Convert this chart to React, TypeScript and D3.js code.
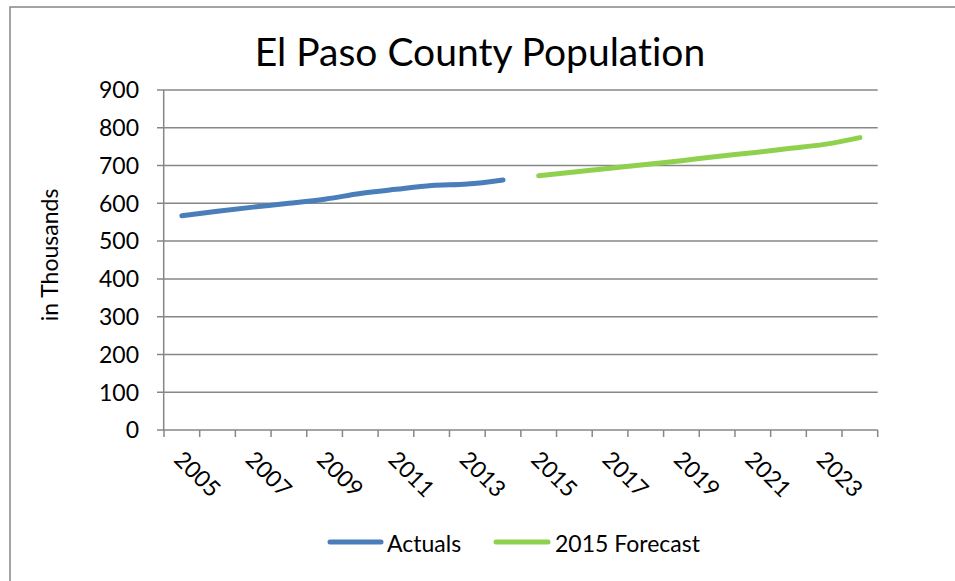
import React from "react";
import * as d3 from "d3";

const years: number[] = d3.range(2005, 2025);
const actualYears: number[] = [2005, 2006, 2007, 2008, 2009, 2010, 2011, 2012, 2013, 2014];
const actualValues: number[] = [567, 579, 590, 600, 611, 626, 637, 647, 651, 662];
const forecastYears: number[] = [2015, 2016, 2017, 2018, 2019, 2020, 2021, 2022, 2023, 2024];
const forecastValues: number[] = [673, 683, 693, 703, 713, 724, 734, 745, 756, 774];
const yTicks: number[] = [0, 100, 200, 300, 400, 500, 600, 700, 800, 900];
const xLabelYears: number[] = [2005, 2007, 2009, 2011, 2013, 2015, 2017, 2019, 2021, 2023];

const W = 955;
const H = 581;
const FONT = "Lato, 'Open Sans', 'DejaVu Sans', sans-serif";
const GRID = "#878787";
const BLUE = "#4a7ebb";
const GREEN = "#8fd14f";
const LABEL_SIZE = 23;
const NO_LIGATURES: React.CSSProperties = {
  fontVariantLigatures: "none",
  fontFeatureSettings: '"liga" 0, "clig" 0, "dlig" 0',
};

export default function App() {
  const x = d3
    .scaleBand<number>()
    .domain(years)
    .range([164, 877.7])
    .paddingInner(0)
    .paddingOuter(0);
  const y = d3.scaleLinear().domain([0, 900]).range([430, 90]);
  const cx = (yr: number) => (x(yr) as number) + x.bandwidth() / 2;

  const line = d3
    .line<[number, number]>()
    .x((d) => cx(d[0]))
    .y((d) => y(d[1]))
    .curve(d3.curveMonotoneX);

  const actualPts = actualYears.map((yr, i) => [yr, actualValues[i]] as [number, number]);
  const forecastPts = forecastYears.map((yr, i) => [yr, forecastValues[i]] as [number, number]);

  const tickXs = [...years.map((yr) => x(yr) as number), 877.7];

  return (
    <svg
      width={W}
      height={H}
      style={{ position: "absolute", left: 0, top: 0, background: "#fff", ...NO_LIGATURES }}
      fontFamily={FONT}
    >
      {/* chart frame */}
      <rect x={10} y={7} width={W} height={H} fill="#fff" stroke={GRID} strokeWidth={1.5} />

      <text x={480} y={66} textAnchor="middle" fontSize={39} fill="#000" style={NO_LIGATURES}>
        El Paso County Population
      </text>

      {/* gridlines */}
      {yTicks.map((t) => (
        <line key={"g" + t} x1={157} x2={877.7} y1={y(t)} y2={y(t)} stroke={GRID} strokeWidth={1.5} />
      ))}

      {/* y axis */}
      <line x1={163.7} x2={163.7} y1={90} y2={431} stroke={GRID} strokeWidth={1.5} />
      {yTicks.map((t) => (
        <text
          key={"yl" + t}
          x={139}
          y={y(t)}
          dy="0.36em"
          textAnchor="end"
          fontSize={LABEL_SIZE}
          fill="#000"
        >
          {t}
        </text>
      ))}
      <text
        transform={`translate(58,255) rotate(-90)`}
        textAnchor="middle"
        fontSize={LABEL_SIZE}
        fill="#000"
      >
        in Thousands
      </text>

      {/* x axis ticks */}
      {tickXs.map((tx, i) => (
        <line key={"xt" + i} x1={tx} x2={tx} y1={430} y2={437} stroke={GRID} strokeWidth={1.5} />
      ))}
      {xLabelYears.map((yr) => (
        <text
          key={"xl" + yr}
          transform={`translate(${cx(yr) - 9},${461}) rotate(45)`}
          textAnchor="start"
          fontSize={LABEL_SIZE}
          fill="#000"
        >
          {yr}
        </text>
      ))}

      {/* series */}
      <path d={line(actualPts) ?? ""} fill="none" stroke={BLUE} strokeWidth={5} strokeLinecap="round" strokeLinejoin="round" />
      <path d={line(forecastPts) ?? ""} fill="none" stroke={GREEN} strokeWidth={5} strokeLinecap="round" strokeLinejoin="round" />

      {/* legend */}
      <line x1={330} x2={381} y1={542} y2={542} stroke={BLUE} strokeWidth={5} strokeLinecap="round" />
      <text x={387} y={552} fontSize={LABEL_SIZE} fill="#000">Actuals</text>
      <line x1={496} x2={548} y1={542} y2={542} stroke={GREEN} strokeWidth={5} strokeLinecap="round" />
      <text x={555} y={552} fontSize={LABEL_SIZE} fill="#000">2015 Forecast</text>
    </svg>
  );
}
